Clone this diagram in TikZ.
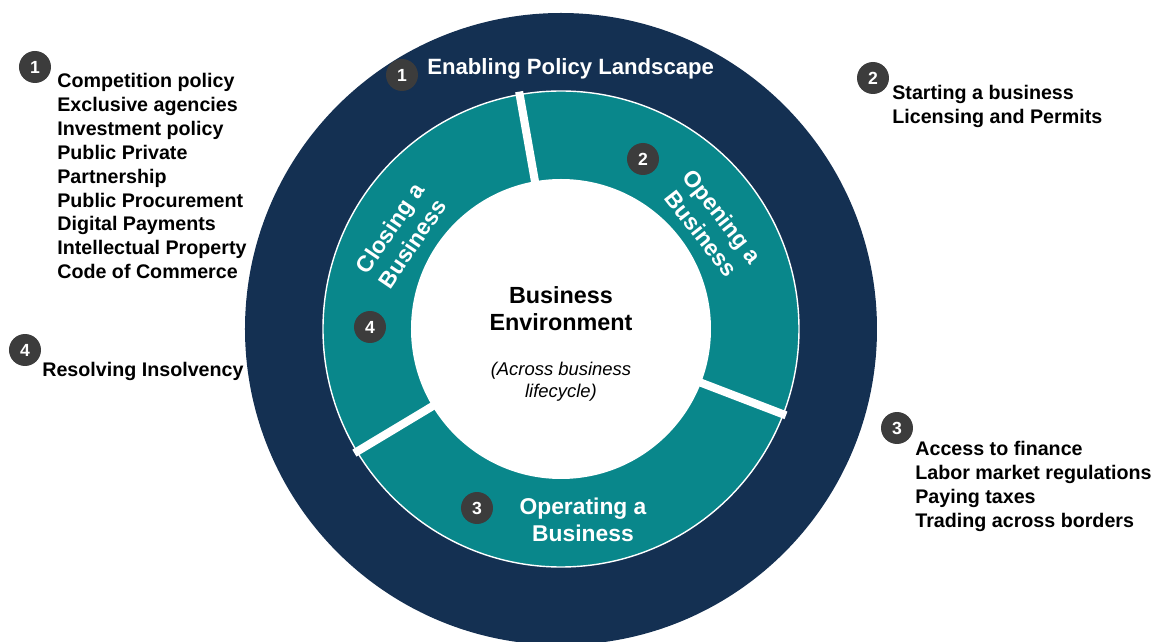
\documentclass[tikz,border=0pt]{standalone}
\usepackage{fontspec}
\setmainfont{Liberation Sans}
\definecolor{navy}{RGB}{20,48,82}
\definecolor{ringteal}{RGB}{9,135,139}
\definecolor{badgegray}{RGB}{60,60,60}

\begin{document}
\begin{tikzpicture}[x=0.02cm,y=0.02cm,
  badge/.style={circle,fill=badgegray,text=white,inner sep=0pt,minimum size=0.64cm,
    font=\bfseries\fontsize{10}{12}\selectfont},
  item/.style={anchor=north west,inner sep=0pt,align=left,
    font=\bfseries\fontsize{11.2}{13.6}\selectfont},
  seg/.style={text=white,inner sep=0pt,align=center,
    font=\bfseries\fontsize{13}{15.3}\selectfont}]
\clip (-561,-313) rectangle (596,329);
\fill [navy] (0,0) circle [radius=316];
\draw [draw=white, fill=ringteal, line width=0.8pt] (0,0) circle [radius=238];
\fill [white] (0,0) circle [radius=150];
\foreach \a in {100,-21,211}
  \draw [white, line width=4.6pt] (\a:145) -- (\a:241);

\node [anchor=base west, inner sep=0pt, text=white, font=\bfseries\fontsize{12.6}{15}\selectfont] (enabling) at (-134,254) {Enabling Policy Landscape};
\node [anchor=north, align=center, inner sep=0pt, font=\bfseries\fontsize{13.3}{15.3}\selectfont] (env) at (0,43) {Business\\Environment};
\node [anchor=north, align=center, inner sep=0pt, font=\itshape\fontsize{10.5}{12.5}\selectfont] (cycle) at (0,-33) {(Across business\\lifecycle)};
\node [seg, anchor=north] (operate) at (22,-169) {Operating a\\Business};
\node [seg, rotate=-52] (open) at (151,104) {Opening a\\Business};
\node [seg, rotate=56] (close) at (-160,93) {Closing a\\Business};

\node [item] (policy) at (-504,256) {Competition policy\\Exclusive agencies\\Investment policy\\Public Private\\Partnership\\Public Procurement\\Digital Payments\\Intellectual Property\\Code of Commerce};
\node [item] (starting) at (331,244) {Starting a business\\Licensing and Permits};
\node [item] (finance) at (354,-112) {Access to finance\\Labor market regulations\\Paying taxes\\Trading across borders};
\node [item, anchor=base west] (insolvency) at (-519,-48) {Resolving Insolvency};

\node [badge] (b1out) at (-526,262) {1};
\node [badge] (b1in) at (-159,254) {1};
\node [badge] (b2out) at (312,251) {2};
\node [badge] (b2in) at (82,170) {2};
\node [badge] (b3out) at (336,-99) {3};
\node [badge] (b3in) at (-84,-179) {3};
\node [badge] (b4out) at (-536,-21) {4};
\node [badge] (b4in) at (-191,2) {4};
\end{tikzpicture}
\end{document}
